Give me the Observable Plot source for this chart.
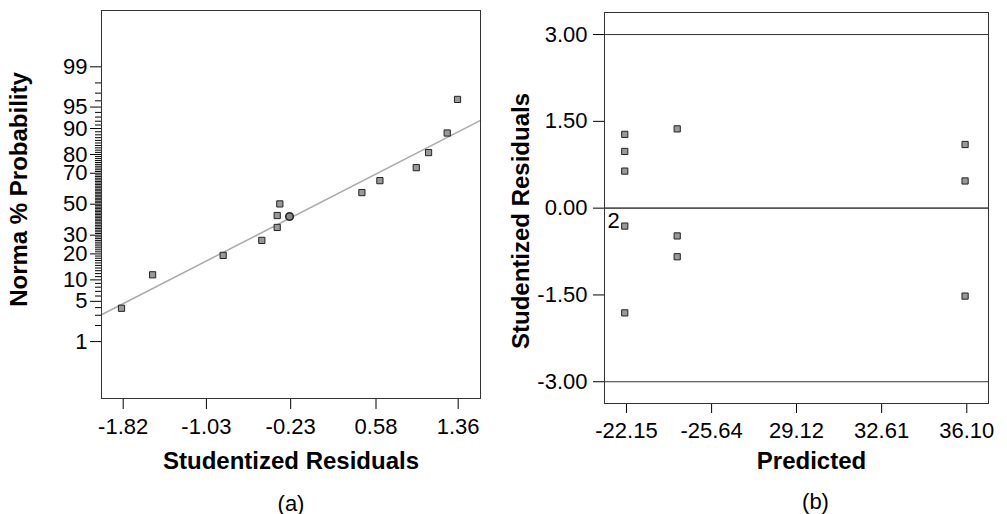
<!DOCTYPE html>
<html><head><meta charset="utf-8">
<script src="https://cdn.jsdelivr.net/npm/d3@7"></script>
<script src="https://cdn.jsdelivr.net/npm/@observablehq/plot@0.6"></script>
<style>
body{margin:0;background:#fff;}
#wrap{position:relative;width:1007px;height:514px;font-family:"Liberation Sans",Arial,sans-serif;}
#wrap svg{position:absolute;top:0;}
</style></head><body><div id="wrap"></div>
<script>
// ---------- Panel (a): normal probability plot ----------
const residA = [-1.836, -1.541, -0.871, -0.504, -0.358, -0.358, -0.333, 0.446, 0.617, 0.962, 1.079, 1.256, 1.354];
const probA  = [3.9, 11.6, 19.3, 27.0, 34.7, 42.4, 50.2, 57.8, 65.5, 73.2, 80.9, 88.6, 96.2];
const circleX = [-0.241];
const circleP = [41.8];
const fitX = [-2.026, 1.572];
const fitP = [3.06, 92.2];
const xTicksA = [-1.82, -1.03, -0.23, 0.58, 1.36];
const xTickLabelsA = ["-1.82", "-1.03", "-0.23", "0.58", "1.36"];
const yMajorP = [1, 5, 10, 20, 30, 50, 70, 80, 90, 95, 99];
const yMajorLabels = ["1", "5", "10", "20", "30", "50", "70", "80", "90", "95", "99"];

// ---------- Panel (b): residuals vs predicted ----------
const predB  = [22.08, 22.08, 22.08, 22.08, 22.08, 24.23, 24.23, 24.23, 36.03, 36.03, 36.03];
const residB = [1.275, 0.98, 0.64, -0.31, -1.81, 1.37, -0.48, -0.84, 1.10, 0.47, -1.52];
const labelB = [{x: 22.08, y: -0.31, t: "2"}];
const xTicksB = [22.15, 25.64, 29.12, 32.61, 36.10];
const xTickLabelsB = ["-22.15", "-25.64", "29.12", "32.61", "36.10"];
const yTicksB = [3, 1.5, 0, -1.5, -3];
const yTickLabelsB = ["3.00", "1.50", "0.00", "-1.50", "-3.00"];
const refLinesB = [3, 0, -3];

// inverse normal CDF (Acklam) for the probability axis
function probit(p){
  const a=[-3.969683028665376e+01,2.209460984245205e+02,-2.759285104469687e+02,1.383577518672690e+02,-3.066479806614716e+01,2.506628277459239e+00];
  const b=[-5.447609879822406e+01,1.615858368580409e+02,-1.556989798598866e+02,6.680131188771972e+01,-1.328068155288572e+01];
  const c=[-7.784894002430293e-03,-3.223964580411365e-01,-2.400758277161838e+00,-2.549671010208574e+00,4.374664141464968e+00,2.938163982698783e+00];
  const d=[7.784695709041462e-03,3.224671290700398e-01,2.445134137142996e+00,3.754408661907416e+00];
  const pl=0.02425, ph=1-pl; let q,r;
  if(p<pl){q=Math.sqrt(-2*Math.log(p));return (((((c[0]*q+c[1])*q+c[2])*q+c[3])*q+c[4])*q+c[5])/((((d[0]*q+d[1])*q+d[2])*q+d[3])*q+1);}
  if(p>ph){q=Math.sqrt(-2*Math.log(1-p));return -(((((c[0]*q+c[1])*q+c[2])*q+c[3])*q+c[4])*q+c[5])/((((d[0]*q+d[1])*q+d[2])*q+d[3])*q+1);}
  q=p-0.5;r=q*q;return (((((a[0]*r+a[1])*r+a[2])*r+a[3])*r+a[4])*r+a[5])*q/(((((b[0]*r+b[1])*r+b[2])*r+b[3])*r+b[4])*r+1);
}
const zOf = p => probit(p/100);

const FONT = '"Liberation Sans", Arial, sans-serif';
const fmtMap = (vals, labels) => { const m = new Map(vals.map((v,i)=>[v, labels[i]])); return v => m.get(v); };

const ptsA = residA.map((x,i)=>({x, z: zOf(probA[i])}));
const circA = circleX.map((x,i)=>({x, z: zOf(circleP[i])}));
const fitA = fitX.map((x,i)=>({x, z: zOf(fitP[i])}));
const yMajorZ = yMajorP.map(zOf);
const yMinorZ = d3.range(1,100).filter(p=>!yMajorP.includes(p)).map(zOf);

const A = Plot.plot({
  width: 500, height: 514,
  marginLeft: 101, marginRight: 20, marginTop: 10, marginBottom: 116,
  style: {fontFamily: FONT, fontSize: "22px", color: "#000", background: "transparent", overflow: "visible"},
  x: {domain: [-2.026, 1.572]},
  y: {domain: [-3.29, 3.28]},
  marks: [
    Plot.axisY(yMinorZ, {tickSize: 6, tickFormat: () => "", label: null}),
    Plot.axisY(yMajorZ, {tickSize: 11, tickPadding: 3, tickFormat: fmtMap(yMajorZ, yMajorLabels), label: null, fontSize: 22}),
    Plot.axisX(xTicksA, {tickSize: 11, tickPadding: 9, tickFormat: fmtMap(xTicksA, xTickLabelsA), label: null, fontSize: 22}),
    Plot.line(fitA, {x: "x", y: "z", stroke: "#aaa", strokeWidth: 1.5}),
    Plot.dot(ptsA, {x: "x", y: "z", symbol: "square", r: 3.5, fill: "#999", stroke: "#222", strokeWidth: 1}),
    Plot.dot(circA, {x: "x", y: "z", symbol: "circle", r: 3.8, fill: "#888", stroke: "#222", strokeWidth: 1.5}),
    Plot.frame({stroke: "#333"}),
    Plot.text(["Studentized Residuals"], {text: d=>d, frameAnchor: "bottom", lineAnchor: "middle", textAnchor: "middle", dy: 63, fontWeight: "bold", fontSize: 24, fill: "#000"}),
    Plot.text(["(a)"], {text: d=>d, frameAnchor: "bottom", lineAnchor: "middle", textAnchor: "middle", dy: 105, fontSize: 22, fill: "#000"}),
    Plot.text(["Norma % Probability"], {text: d=>d, frameAnchor: "left", lineAnchor: "middle", textAnchor: "middle", dx: -82, dy: -15, rotate: -90, fontWeight: "bold", fontSize: 24, fill: "#000"})
  ]
});

const ptsB = predB.map((x,i)=>({x, y: residB[i]}));
const B = Plot.plot({
  width: 507, height: 514,
  marginLeft: 104, marginRight: 19, marginTop: 12, marginBottom: 111,
  style: {fontFamily: FONT, fontSize: "22px", color: "#000", background: "transparent", overflow: "visible"},
  x: {domain: [21.25, 36.99]},
  y: {domain: [-3.376, 3.381]},
  marks: [
    Plot.ruleY(refLinesB, {stroke: d => d === 0 ? "#555" : "#333", strokeWidth: d => d === 0 ? 1.6 : 1}),
    Plot.axisY(yTicksB, {tickSize: 11, tickPadding: 6, tickFormat: fmtMap(yTicksB, yTickLabelsB), label: null, fontSize: 22}),
    Plot.axisX(xTicksB, {tickSize: 10, tickPadding: 9, tickFormat: fmtMap(xTicksB, xTickLabelsB), label: null, fontSize: 22}),
    Plot.dot(ptsB, {x: "x", y: "y", symbol: "square", r: 3.5, fill: "#999", stroke: "#222", strokeWidth: 1}),
    Plot.text(labelB, {x: "x", y: "y", text: "t", dx: -11, dy: -5, fontSize: 22, fill: "#000"}),
    Plot.frame({stroke: "#333"}),
    Plot.text(["Predicted"], {text: d=>d, frameAnchor: "bottom", lineAnchor: "middle", textAnchor: "middle", dy: 58, dx: 15, fontWeight: "bold", fontSize: 24, fill: "#000"}),
    Plot.text(["(b)"], {text: d=>d, frameAnchor: "bottom", lineAnchor: "middle", textAnchor: "middle", dy: 98, dx: 19, fontSize: 22, fill: "#000"}),
    Plot.text(["Studentized Residuals"], {text: d=>d, frameAnchor: "left", lineAnchor: "middle", textAnchor: "middle", dx: -83, dy: 13, rotate: -90, fontWeight: "bold", fontSize: 24, fill: "#000"})
  ]
});

const wrap = document.getElementById("wrap");
A.style.left = "0px";
B.style.left = "500px";
wrap.appendChild(A);
wrap.appendChild(B);
</script>
</body></html>
